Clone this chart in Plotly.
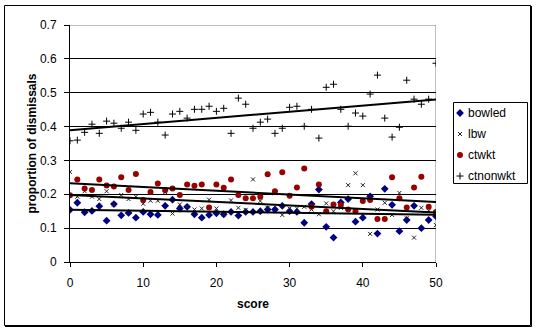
import numpy as np
import plotly.graph_objects as go

# ---- data: proportion of each dismissal mode by batting score ----
score = list(range(51))

bowled = [0.154, 0.175, 0.147, 0.151, 0.165, 0.122, 0.171, 0.138, 0.145, 0.131,
          0.148, 0.141, 0.139, 0.166, 0.184, 0.158, 0.163, 0.141, 0.131, 0.139,
          0.144, 0.141, 0.148, 0.137, 0.148, 0.148, 0.150, 0.155, 0.155, 0.166,
          0.150, 0.148, 0.116, 0.171, 0.214, 0.104, 0.072, 0.176, 0.186, 0.119,
          0.131, 0.194, 0.084, 0.216, 0.169, 0.091, 0.124, 0.166, 0.100, 0.124,
          0.135]

lbw = [0.266, 0.193, 0.209, 0.193, 0.186, 0.209, 0.170, 0.198, 0.186, 0.193,
       0.172, 0.181, 0.181, 0.206, 0.143, 0.170, 0.163, 0.155, 0.158, 0.184,
       0.158, 0.141, 0.182, 0.160, 0.154, 0.244, 0.180, 0.160, 0.203, 0.139,
       0.158, 0.158, 0.163, 0.155, 0.141, 0.173, 0.150, 0.160, 0.227, 0.262,
       0.227, 0.083, 0.155, 0.175, 0.139, 0.204, 0.129, 0.072, 0.160, 0.151,
       0.109]

ctwkt = [0.197, 0.244, 0.217, 0.213, 0.244, 0.226, 0.223, 0.250, 0.213, 0.260,
         0.183, 0.207, 0.232, 0.212, 0.217, 0.198, 0.229, 0.225, 0.229, 0.161,
         0.229, 0.219, 0.244, 0.198, 0.188, 0.188, 0.193, 0.259, 0.209, 0.265,
         0.196, 0.220, 0.276, 0.163, 0.229, 0.150, 0.170, 0.168, 0.155, 0.150,
         0.180, 0.183, 0.127, 0.127, 0.250, 0.188, 0.161, 0.220, 0.252, 0.163,
         0.148]

ctnonwkt = [0.358, 0.360, 0.383, 0.407, 0.380, 0.416, 0.410, 0.395, 0.413, 0.389,
            0.437, 0.442, 0.413, 0.375, 0.437, 0.445, 0.425, 0.451, 0.451, 0.460,
            0.445, 0.454, 0.380, 0.484, 0.466, 0.395, 0.413, 0.422, 0.380, 0.395,
            0.457, 0.460, 0.401, 0.451, 0.366, 0.516, 0.525, 0.451, 0.401, 0.440,
            0.431, 0.496, 0.552, 0.425, 0.369, 0.398, 0.537, 0.481, 0.466, 0.481,
            0.587]

series_names = ["bowled", "lbw", "ctwkt", "ctnonwkt"]
series_values = [bowled, lbw, ctwkt, ctnonwkt]
x_ticks = [0, 10, 20, 30, 40, 50]
y_ticks = [0, 0.1, 0.2, 0.3, 0.4, 0.5, 0.6, 0.7]

# ---- styling ----
FONT = "Liberation Sans, Arial, sans-serif"
markers = {
    "bowled":   dict(symbol="diamond", size=6, color="#000080", line=dict(width=0)),
    "lbw":      dict(symbol="x-thin-open", size=4, color="#222222", line=dict(width=1, color="#222222")),
    "ctwkt":    dict(symbol="circle", size=6, color="#990000", line=dict(width=0)),
    "ctnonwkt": dict(symbol="cross-thin-open", size=5, color="#000000", line=dict(width=1, color="#000000")),
}

W, H = 536, 331


def fx(px):
    return px / W


def fy(py):
    return 1 - py / H


fig = go.Figure()

# scatter points
for name, vals in zip(series_names, series_values):
    fig.add_trace(go.Scatter(x=score, y=vals, mode="markers", name=name,
                             marker=markers[name], showlegend=False,
                             xaxis="x", yaxis="y"))

# linear trendlines
xs = np.array(score, dtype=float)
for name, vals in zip(series_names, series_values):
    slope, icpt = np.polyfit(xs, np.array(vals), 1)
    xe = np.array([xs.min(), xs.max()])
    fig.add_trace(go.Scatter(x=xe, y=icpt + slope * xe, mode="lines",
                             line=dict(color="black", width=2),
                             showlegend=False, hoverinfo="skip",
                             xaxis="x", yaxis="y"))

# legend swatches on a small auxiliary axis pair
leg_rows = list(range(len(series_names)))
for row, name in zip(leg_rows, series_names):
    fig.add_trace(go.Scatter(x=[7], y=[row], mode="markers",
                             marker=markers[name], showlegend=False,
                             hoverinfo="skip", xaxis="x2", yaxis="y2"))

annotations = [
    dict(text="<b>proportion of dismissals</b>", x=fx(31), y=fy(143.5),
         xref="paper", yref="paper", xanchor="center", yanchor="middle",
         textangle=-90, showarrow=False,
         font=dict(family=FONT, size=12, color="black")),
    dict(text="<b>score</b>", x=fx(253), y=fy(304), xref="paper", yref="paper",
         xanchor="center", yanchor="middle", showarrow=False,
         font=dict(family=FONT, size=12, color="black")),
]
for row, name in zip(leg_rows, series_names):
    annotations.append(dict(text=name, x=13, y=row, xref="x2", yref="y2",
                            xanchor="left", yanchor="middle", showarrow=False,
                            font=dict(family=FONT, size=12, color="black")))

shapes = [
    # chart frame
    dict(type="rect", xref="paper", yref="paper", x0=fx(4.5), x1=fx(530.5),
         y0=fy(325.5), y1=fy(5.5), line=dict(color="black", width=1)),
    dict(type="line", xref="paper", yref="paper", x0=fx(531.5), x1=fx(531.5),
         y0=fy(326.5), y1=fy(6), line=dict(color="black", width=1)),
    dict(type="line", xref="paper", yref="paper", x0=fx(5), x1=fx(531.5),
         y0=fy(326.5), y1=fy(326.5), line=dict(color="black", width=1)),
    # legend box
    dict(type="rect", xref="paper", yref="paper", x0=fx(453.5), x1=fx(527.5),
         y0=fy(183.5), y1=fy(102.5), line=dict(color="black", width=1)),
    # grey plot-area border on top and right
    dict(type="line", xref="x", yref="y", x0=0, x1=50, y0=0.7, y1=0.7,
         line=dict(color="#808080", width=1), layer="above"),
    dict(type="line", xref="x", yref="y", x0=50, x1=50, y0=0, y1=0.7,
         line=dict(color="#808080", width=1), layer="below"),
]

fig.update_layout(
    width=W, height=H,
    margin=dict(l=0, r=0, t=0, b=0, pad=0),
    paper_bgcolor="white", plot_bgcolor="white",
    font=dict(family=FONT, size=12, color="black"),
    showlegend=False,
    xaxis=dict(domain=[fx(70), fx(436)], range=[0, 50], tickvals=x_ticks,
               showgrid=False, zeroline=False, showline=True, linecolor="black",
               linewidth=1, ticks="outside", ticklen=4, tickcolor="black",
               tickfont=dict(family=FONT, size=12, color="black"),
               ticklabelstandoff=6, automargin=False, anchor="y", fixedrange=True),
    yaxis=dict(domain=[fy(262), fy(25)], range=[0, 0.7], tickvals=y_ticks,
               ticktext=[f"{v:g}" for v in y_ticks],
               showgrid=True, gridcolor="black", gridwidth=1, zeroline=False,
               showline=True, linecolor="black", linewidth=1, ticks="outside",
               ticklen=5, tickcolor="black",
               tickfont=dict(family=FONT, size=12, color="black"),
               ticklabelstandoff=5, automargin=False, anchor="x", fixedrange=True),
    xaxis2=dict(domain=[fx(453), fx(528)], range=[0, 75], visible=False,
                anchor="y2", fixedrange=True),
    yaxis2=dict(domain=[fy(184), fy(102)], range=[3.38, -0.524], visible=False,
                anchor="x2", fixedrange=True),
    annotations=annotations,
    shapes=shapes,
)

fig.write_html("out.html")
